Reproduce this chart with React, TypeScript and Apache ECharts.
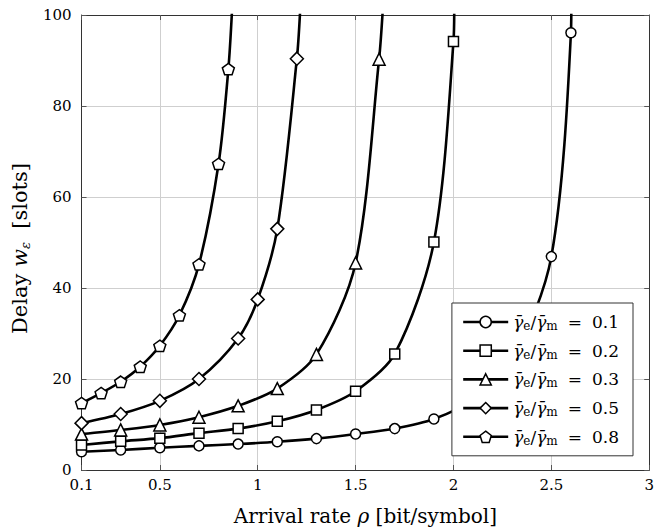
import React, { useEffect, useRef } from "react";
import * as echarts from "echarts";

const xTicks = [0.1, 0.5, 1, 1.5, 2, 2.5, 3];

const ratioLabels = ["0.1", "0.2", "0.3", "0.5", "0.8"];

const x01 = [0.1, 0.3, 0.5, 0.7, 0.9, 1.1, 1.3, 1.5, 1.7, 1.9, 2.1, 2.3, 2.5, 2.6, 2.602];
const y01 = [4.0, 4.4, 4.9, 5.3, 5.7, 6.2, 6.9, 7.9, 9.1, 11.2, 15.5, 24.0, 46.9, 96.1, 102];

const x02 = [0.1, 0.3, 0.5, 0.7, 0.9, 1.1, 1.3, 1.5, 1.7, 1.9, 2.0, 2.004];
const y02 = [5.5, 6.3, 7.0, 8.1, 9.1, 10.7, 13.2, 17.3, 25.5, 50.1, 94.2, 102];

const x03 = [0.1, 0.3, 0.5, 0.7, 0.9, 1.1, 1.3, 1.5, 1.62, 1.64];
const y03 = [7.9, 8.8, 9.9, 11.6, 14.1, 17.9, 25.4, 45.5, 90.3, 102];

const x05 = [0.1, 0.3, 0.5, 0.7, 0.9, 1.0, 1.1, 1.2, 1.218];
const y05 = [10.3, 12.3, 15.2, 20.0, 28.9, 37.5, 53.0, 90.4, 102];

const x08 = [0.1, 0.2, 0.3, 0.4, 0.5, 0.6, 0.7, 0.8, 0.85, 0.87];
const y08 = [14.7, 16.9, 19.4, 22.7, 27.3, 34.0, 45.2, 67.3, 88.1, 102];

const FONT = "DejaVu Serif";
const PENTAGON =
  "path://M0,-1 L0.951,-0.309 L0.588,0.809 L-0.588,0.809 L-0.951,-0.309 Z";

function buildData(xs: number[], ys: number[]) {
  // last point is the exit point at the top edge (no marker)
  return xs.map((x, i) =>
    i === xs.length - 1
      ? { value: [x, ys[i]], symbol: "none" }
      : { value: [x, ys[i]] }
  );
}

export default function App() {
  const ref = useRef<HTMLDivElement>(null);

  useEffect(() => {
    if (!ref.current) return;
    const chart = echarts.init(ref.current, null, { renderer: "svg" });

    const defs = [
      { xs: x01, ys: y01, symbol: "circle", size: 10 },
      { xs: x02, ys: y02, symbol: "rect", size: 10 },
      { xs: x03, ys: y03, symbol: "triangle", size: 12 },
      { xs: x05, ys: y05, symbol: "diamond", size: 13 },
      { xs: x08, ys: y08, symbol: PENTAGON, size: 12 },
    ];

    const names = ratioLabels.map((r) => "ratio " + r);

    const series = defs.map((d, i) => ({
      name: names[i],
      type: "line",
      data: buildData(d.xs, d.ys),
      smooth: 0.3,
      symbol: d.symbol,
      symbolSize: d.size,
      symbolKeepAspect: true,
      showAllSymbol: true,
      clip: true,
      lineStyle: { color: "#000", width: 2.6 },
      itemStyle: { color: "#fff", borderColor: "#000", borderWidth: 1.5 },
      z: 2 + i,
    }));

    const axisCommon = {
      axisLine: { show: true, onZero: false, lineStyle: { color: "#333", width: 1 } },
      axisTick: { show: true, inside: true, length: 5, lineStyle: { color: "#555" } },
    };

    chart.setOption({
      animation: false,
      backgroundColor: "#fff",
      grid: { left: 80, right: 4, top: 15, bottom: 60, containLabel: false },
      legend: {
        data: names,
        orient: "vertical",
        right: 24,
        top: 303,
        itemWidth: 45,
        itemHeight: 14,
        itemGap: 8.7,
        padding: [9, 14, 9, 10],
        backgroundColor: "#fff",
        borderColor: "#333",
        borderWidth: 1,
        borderRadius: 0,
        z: 10,
        lineStyle: { color: "#000", width: 2.6 },
        itemStyle: { color: "#fff", borderColor: "#000", borderWidth: 1.5 },
        formatter: (name: string) => {
          const r = name.replace("ratio ", "");
          return `{g|γ̄}{s|e}{t|/}{g|γ̄}{s|m}{e|=}{t|${r}}`;
        },
        textStyle: {
          color: "#000",
          fontFamily: FONT,
          fontSize: 17,
          lineHeight: 20,
          rich: {
            g: { fontFamily: FONT, fontSize: 17, fontStyle: "italic", lineHeight: 20, color: "#000" },
            s: { fontFamily: FONT, fontSize: 12, lineHeight: 10, verticalAlign: "bottom", color: "#000" },
            t: { fontFamily: FONT, fontSize: 17, lineHeight: 20, color: "#000" },
            e: { fontFamily: FONT, fontSize: 17, lineHeight: 20, color: "#000", padding: [0, 10, 0, 10] },
          },
        },
      },
      xAxis: [
        {
          type: "value",
          min: 0.1,
          max: 3,
          position: "bottom",
          ...axisCommon,
          axisTick: { ...axisCommon.axisTick, customValues: xTicks },
          axisLabel: {
            customValues: xTicks,
            color: "#000",
            fontFamily: FONT,
            fontSize: 15,
            margin: 7,
            formatter: (v: number) => String(v),
          },
          splitLine: { show: true, lineStyle: { color: "#cfcfcf", width: 1 } },
          name: "Arrival rate {i|ρ} [bit/symbol]",
          nameLocation: "middle",
          nameGap: 36,
          nameTextStyle: {
            color: "#000",
            fontFamily: FONT,
            fontSize: 20,
            rich: {
              i: { fontFamily: FONT, fontSize: 20, fontStyle: "italic", color: "#000" },
            },
          },
        },
        {
          type: "value",
          min: 0.1,
          max: 3,
          position: "top",
          ...axisCommon,
          axisTick: { ...axisCommon.axisTick, customValues: xTicks },
          axisLabel: { show: false, customValues: xTicks },
          splitLine: { show: false },
        },
      ],
      yAxis: [
        {
          type: "value",
          min: 0,
          max: 100,
          interval: 20,
          position: "left",
          ...axisCommon,
          axisLabel: {
            color: "#000",
            fontFamily: FONT,
            fontSize: 15,
            margin: 10,
          },
          splitLine: { show: true, lineStyle: { color: "#cfcfcf", width: 1 } },
          name: "Delay {i|w}{s|ε}  [slots]",
          nameLocation: "middle",
          nameGap: 46,
          nameRotate: 90,
          nameTextStyle: {
            color: "#000",
            fontFamily: FONT,
            fontSize: 21,
            lineHeight: 24,
            padding: [0, 12, 0, 0],
            rich: {
              i: { fontFamily: FONT, fontSize: 21, fontStyle: "italic", lineHeight: 24, color: "#000" },
              s: { fontFamily: FONT, fontSize: 13, fontStyle: "italic", lineHeight: 12, verticalAlign: "bottom", color: "#000" },
            },
          },
        },
        {
          type: "value",
          min: 0,
          max: 100,
          interval: 20,
          position: "right",
          ...axisCommon,
          axisLabel: { show: false },
          splitLine: { show: false },
        },
      ],
      series,
    });

    return () => chart.dispose();
  }, []);

  return (
    <div
      ref={ref}
      style={{ position: "absolute", left: 0, top: 0, width: 657, height: 531 }}
    />
  );
}
